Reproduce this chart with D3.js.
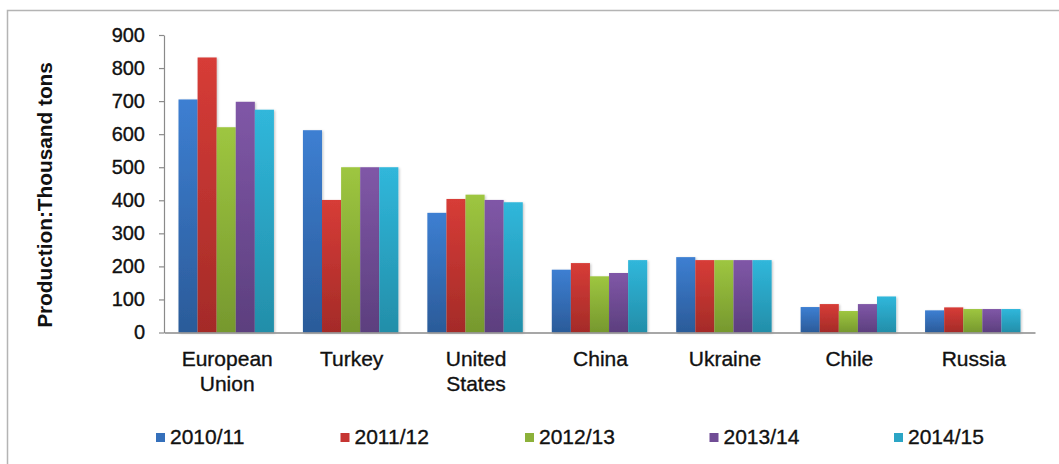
<!DOCTYPE html>
<html>
<head>
<meta charset="utf-8">
<script src="https://cdn.jsdelivr.net/npm/d3@7"></script>
<style>
  html, body { margin: 0; padding: 0; background: #fff; }
  svg { display: block; font-family: "Liberation Sans", Arial, Helvetica, sans-serif; }
  .lbl { fill: #111; stroke: #111; stroke-width: 0.35px; }
</style>
</head>
<body>
<svg id="chart" width="1059" height="464"></svg>
<script>
// Production by region and marketing year (thousand tons)
const categories = ["European Union", "Turkey", "United States", "China", "Ukraine", "Chile", "Russia"];
const seasons = ["2010/11", "2011/12", "2012/13", "2013/14", "2014/15"];
const v2010_11 = [705, 612, 362, 190, 228, 77, 67];
const v2011_12 = [832, 401, 404, 210, 219, 86, 76];
const v2012_13 = [621, 500, 417, 170, 219, 65, 71];
const v2013_14 = [698, 500, 401, 180, 219, 86, 71];
const v2014_15 = [674, 500, 394, 219, 219, 109, 71];
const yTicks = [0, 100, 200, 300, 400, 500, 600, 700, 800, 900];

const seriesValues = [v2010_11, v2011_12, v2012_13, v2013_14, v2014_15];
const palette = [
  { top: "#3d7fd2", mid: "#3570bb", bottom: "#2b5b99" },
  { top: "#d73c37", mid: "#c63532", bottom: "#a42b28" },
  { top: "#9ec640", mid: "#8cb13a", bottom: "#76982e" },
  { top: "#8057a7", mid: "#704c95", bottom: "#5c3f7e" },
  { top: "#30b7db", mid: "#2ba5c5", bottom: "#238ea9" }
];

const svg = d3.select("#chart");

// outer frame
svg.append("rect")
  .attr("x", 7.5).attr("y", 10.5)
  .attr("width", 1200).attr("height", 600)
  .attr("fill", "none").attr("stroke", "#b4b4b4").attr("stroke-width", 1.5);

const defs = svg.append("defs");
palette.forEach((c, i) => {
  const g = defs.append("linearGradient")
    .attr("id", "grad" + i)
    .attr("x1", 0).attr("y1", 0).attr("x2", 0).attr("y2", 1);
  g.append("stop").attr("offset", "0%").attr("stop-color", c.top);
  g.append("stop").attr("offset", "100%").attr("stop-color", c.bottom);
});
const shadow = defs.append("filter").attr("id", "shadow")
  .attr("x", "-20%").attr("y", "-5%").attr("width", "150%").attr("height", "115%");
shadow.append("feDropShadow")
  .attr("dx", 1.2).attr("dy", 0.8).attr("stdDeviation", 1)
  .attr("flood-color", "#000").attr("flood-opacity", 0.22);

const plotLeft = 164, plotRight = 1035, plotTop = 35, plotBottom = 332.5;

const y = d3.scaleLinear().domain([0, 900]).range([plotBottom, plotTop]);
const x0 = d3.scaleBand().domain(categories).range([plotLeft, plotRight]).padding(0);
const x1 = d3.scaleBand().domain(seasons)
  .range([14.5, x0.bandwidth() - 14.5]).padding(0);

// bars
const groups = svg.append("g").selectAll("g")
  .data(categories)
  .join("g")
  .attr("transform", d => `translate(${x0(d)},0)`);

groups.selectAll("rect")
  .data((d, ci) => seasons.map((s, si) => ({ s, si, v: seriesValues[si][ci] })))
  .join("rect")
  .attr("x", d => x1(d.s))
  .attr("y", d => y(d.v))
  .attr("width", x1.bandwidth())
  .attr("height", d => y(0) - y(d.v))
  .attr("fill", d => `url(#grad${d.si})`)
  .attr("filter", "url(#shadow)");

// y axis
const yAxis = svg.append("g")
  .attr("transform", `translate(${plotLeft},0)`)
  .call(d3.axisLeft(y).tickValues(yTicks).tickSize(5).tickPadding(14).tickSizeOuter(0));
yAxis.select(".domain").attr("stroke", "#8a8a8a").attr("stroke-width", 1.2);
yAxis.selectAll(".tick line").attr("stroke", "#8a8a8a").attr("stroke-width", 1.2);
yAxis.selectAll(".tick text")
  .attr("class", "lbl")
  .attr("font-size", 20).attr("font-family", "Liberation Sans, Arial, sans-serif");

// x axis
const xAxis = svg.append("g")
  .attr("transform", `translate(0,${plotBottom})`)
  .call(d3.axisBottom(x0).tickSize(0).tickSizeOuter(0).tickFormat(""));
xAxis.select(".domain").attr("stroke", "#8a8a8a").attr("stroke-width", 1.5);

// category labels, wrapped to two lines where needed
const labelLines = {
  "European Union": ["European", "Union"],
  "United States": ["United", "States"]
};
const catLabels = svg.append("g").selectAll("text")
  .data(categories)
  .join("text")
  .attr("class", "lbl")
  .attr("x", d => x0(d) + x0.bandwidth() / 2 + 1)
  .attr("y", 366)
  .attr("text-anchor", "middle")
  .attr("font-size", 21);
catLabels.each(function (d) {
  const lines = labelLines[d] || [d];
  const t = d3.select(this);
  lines.forEach((ln, i) => {
    t.append("tspan")
      .attr("x", x0(d) + x0.bandwidth() / 2 + 1)
      .attr("dy", i === 0 ? 0 : 25)
      .text(ln);
  });
});

// y axis title
svg.append("text")
  .attr("transform", "translate(52,195) rotate(-90)")
  .attr("text-anchor", "middle")
  .attr("font-size", 20.8)
  .attr("font-weight", "bold")
  .attr("fill", "#111")
  .text("Production:Thousand tons");

// legend
const legendX = d3.scalePoint().domain(seasons).range([156, 894]);
const legend = svg.append("g").selectAll("g")
  .data(seasons)
  .join("g")
  .attr("transform", d => `translate(${legendX(d)},433)`);
legend.append("rect")
  .attr("width", 9).attr("height", 9)
  .attr("fill", (d, i) => palette[i].mid);
legend.append("text")
  .attr("class", "lbl")
  .attr("x", 14).attr("y", 11)
  .attr("font-size", 21)
  .text(d => d);
</script>
</body>
</html>
